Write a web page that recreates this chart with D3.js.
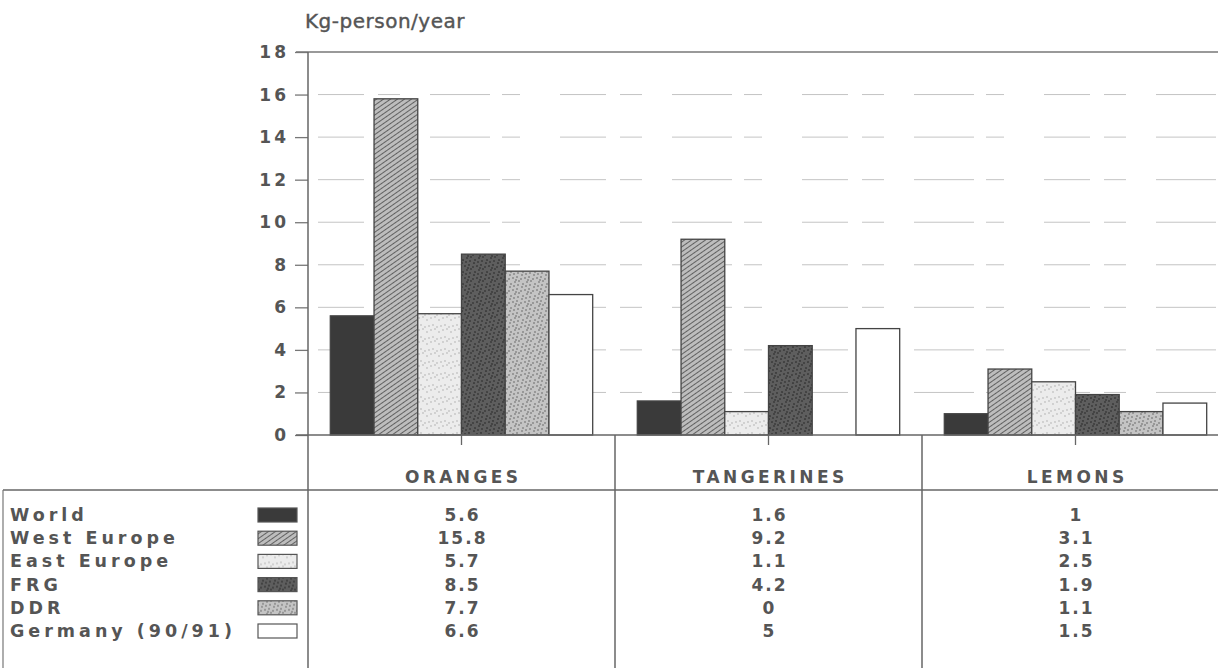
<!DOCTYPE html>
<html>
<head>
<meta charset="utf-8">
<script src="https://cdn.jsdelivr.net/npm/d3@7"></script>
<style>
  body { margin: 0; background: #fff; }
  text { font-family: "DejaVu Sans", "Liberation Sans", sans-serif; fill: #555; }
</style>
</head>
<body>
<div id="chart"></div>
<script>
(function () {
  let categories = ['ORANGES', 'TANGERINES', 'LEMONS'];
  let series = ['World', 'West Europe', 'East Europe', 'FRG', 'DDR', 'Germany (90/91)'];
  let world = [5.6, 1.6, 1];
  let westEurope = [15.8, 9.2, 3.1];
  let eastEurope = [5.7, 1.1, 2.5];
  let frg = [8.5, 4.2, 1.9];
  let ddr = [7.7, 0, 1.1];
  let germany = [6.6, 5, 1.5];
  let yTicks = [0, 2, 4, 6, 8, 10, 12, 14, 16, 18];

  let values = [world, westEurope, eastEurope, frg, ddr, germany];
  let fills = ['#3a3a3a', 'url(#hatch)', 'url(#lightDots)', 'url(#darkDots)', 'url(#midDots)', '#fff'];

  let W = 1218, H = 668;
  let plotTop = 52, plotBottom = 435, axisX = 308;
  let tableTop = 490, rowStart = 515, rowStep = 23.2;
  let wordSpacing = 4, catSpacing = 3.4, numSpacing = 2, tickSpacing = 3;

  let svg = d3.select('#chart').append('svg')
    .attr('width', W).attr('height', H);

  let defs = svg.append('defs');
  let hatch = defs.append('pattern')
    .attr('id', 'hatch').attr('patternUnits', 'userSpaceOnUse')
    .attr('width', 4).attr('height', 4)
    .attr('patternTransform', 'rotate(-35)');
  hatch.append('rect').attr('width', 4).attr('height', 4).attr('fill', '#bdbdbd');
  hatch.append('line').attr('x1', 0).attr('y1', 0).attr('x2', 4).attr('y2', 0)
    .attr('stroke', '#4a4a4a').attr('stroke-width', 1.6);

  function dots(id, bg, fg, n, r) {
    let p = defs.append('pattern')
      .attr('id', id).attr('patternUnits', 'userSpaceOnUse')
      .attr('width', 12).attr('height', 12);
    p.append('rect').attr('width', 12).attr('height', 12).attr('fill', bg);
    let pts = [[1, 2], [5, 1], [9, 3], [3, 6], [7, 5], [11, 8], [2, 10], [6, 9], [10, 11], [4, 4], [8, 7], [0, 7]];
    pts.slice(0, n).forEach((q) => {
      p.append('circle').attr('cx', q[0]).attr('cy', q[1]).attr('r', r).attr('fill', fg);
    });
  }
  dots('lightDots', '#ececec', '#c4c4c4', 6, 0.9);
  dots('midDots', '#c4c4c4', '#8a8a8a', 10, 1);
  dots('darkDots', '#5e5e5e', '#3e3e3e', 10, 1.1);

  let y = d3.scaleLinear().domain([0, 18]).range([plotBottom, plotTop]);

  let x = d3.scaleBand().domain(categories).range([axisX, axisX + 921]).padding(0);

  let xs = d3.scaleBand().domain(series).range([0, x.bandwidth()])
    .paddingInner(0).paddingOuter(0.51);

  // gridlines
  svg.append('g').selectAll('line')
    .data(yTicks.filter((d) => d > 0 && d < 18))
    .enter().append('line')
    .attr('x1', axisX + 10).attr('x2', W)
    .attr('y1', (d) => y(d)).attr('y2', (d) => y(d))
    .attr('stroke', '#c4c4c4').attr('stroke-width', 1)
    .attr('stroke-dasharray', '46 14 22 30 60 12 18 40');

  // top frame line
  svg.append('line')
    .attr('x1', 296).attr('x2', W).attr('y1', y(18)).attr('y2', y(18))
    .attr('stroke', '#777').attr('stroke-width', 1.5);

  // y axis
  let yAxis = svg.append('g')
    .attr('transform', `translate(${axisX},0)`)
    .call(d3.axisLeft(y).tickValues(yTicks).tickSize(13).tickPadding(6));
  yAxis.select('.domain').remove();
  yAxis.selectAll('.tick line').attr('stroke', '#777').attr('stroke-width', 1.3);
  yAxis.selectAll('.tick text')
    .attr('font-family', '"DejaVu Sans", sans-serif')
    .attr('font-size', 17).attr('font-weight', 'bold')
    .attr('letter-spacing', tickSpacing + 'px').attr('fill', '#555');

  svg.append('line')
    .attr('x1', axisX).attr('x2', axisX).attr('y1', plotTop).attr('y2', H)
    .attr('stroke', '#666').attr('stroke-width', 1.5);

  svg.append('text')
    .attr('x', 305).attr('y', 28)
    .attr('font-size', 20).attr('letter-spacing', '0.5px')
    .attr('stroke', '#555').attr('stroke-width', 0.4)
    .text('Kg-person/year');

  // bars
  let groups = svg.append('g').selectAll('g')
    .data(categories)
    .enter().append('g')
    .attr('transform', (d) => `translate(${x(d)},0)`);

  groups.selectAll('rect')
    .data((c, ci) => series.map((s, si) => ({ s: s, si: si, v: values[si][ci] })))
    .enter().append('rect')
    .filter((d) => d.v > 0)
    .attr('x', (d) => xs(d.s))
    .attr('y', (d) => y(d.v))
    .attr('width', xs.bandwidth())
    .attr('height', (d) => y(0) - y(d.v))
    .attr('fill', (d) => fills[d.si])
    .attr('stroke', '#444').attr('stroke-width', 1.3);

  // baseline + category ticks
  svg.append('line')
    .attr('x1', 296).attr('x2', W).attr('y1', y(0)).attr('y2', y(0))
    .attr('stroke', '#666').attr('stroke-width', 1.5);

  svg.append('g').selectAll('line')
    .data(categories)
    .enter().append('line')
    .attr('x1', (d) => x(d) + x.bandwidth() / 2)
    .attr('x2', (d) => x(d) + x.bandwidth() / 2)
    .attr('y1', y(0)).attr('y2', y(0) + 10)
    .attr('stroke', '#666').attr('stroke-width', 1.3);

  // table
  svg.append('g').selectAll('line')
    .data(categories.slice(1))
    .enter().append('line')
    .attr('x1', (d) => x(d)).attr('x2', (d) => x(d))
    .attr('y1', y(0)).attr('y2', H)
    .attr('stroke', '#666').attr('stroke-width', 1.5);

  svg.append('line')
    .attr('x1', 3).attr('x2', W).attr('y1', tableTop).attr('y2', tableTop)
    .attr('stroke', '#666').attr('stroke-width', 1.5);
  svg.append('line')
    .attr('x1', 3).attr('x2', 3).attr('y1', tableTop).attr('y2', H)
    .attr('stroke', '#777').attr('stroke-width', 1.2);

  svg.append('g').selectAll('text')
    .data(categories)
    .enter().append('text')
    .attr('x', (d) => x(d) + x.bandwidth() / 2 + catSpacing / 2)
    .attr('y', 483)
    .attr('text-anchor', 'middle')
    .attr('font-size', 17).attr('font-weight', 'bold').attr('letter-spacing', catSpacing + 'px')
    .text((d) => d);

  let rows = svg.append('g').selectAll('g')
    .data(series)
    .enter().append('g')
    .attr('transform', (d, i) => `translate(0,${rowStart + i * rowStep})`);

  rows.append('text')
    .attr('x', 10).attr('y', 6)
    .attr('font-size', 17.5).attr('font-weight', 'bold').attr('letter-spacing', wordSpacing + 'px')
    .text((d) => d);

  rows.append('rect')
    .attr('x', 258).attr('y', -7).attr('width', 39).attr('height', 14)
    .attr('fill', (d, i) => fills[i])
    .attr('stroke', '#555').attr('stroke-width', 1.2);

  rows.selectAll('.val')
    .data((s, si) => categories.map((c, ci) => ({ c: c, v: values[si][ci] })))
    .enter().append('text')
    .attr('class', 'val')
    .attr('x', (d) => x(d.c) + x.bandwidth() / 2 + numSpacing / 2)
    .attr('y', 6)
    .attr('text-anchor', 'middle')
    .attr('font-size', 17).attr('font-weight', 'bold').attr('letter-spacing', numSpacing + 'px')
    .text((d) => d.v);
})();
</script>
</body>
</html>
